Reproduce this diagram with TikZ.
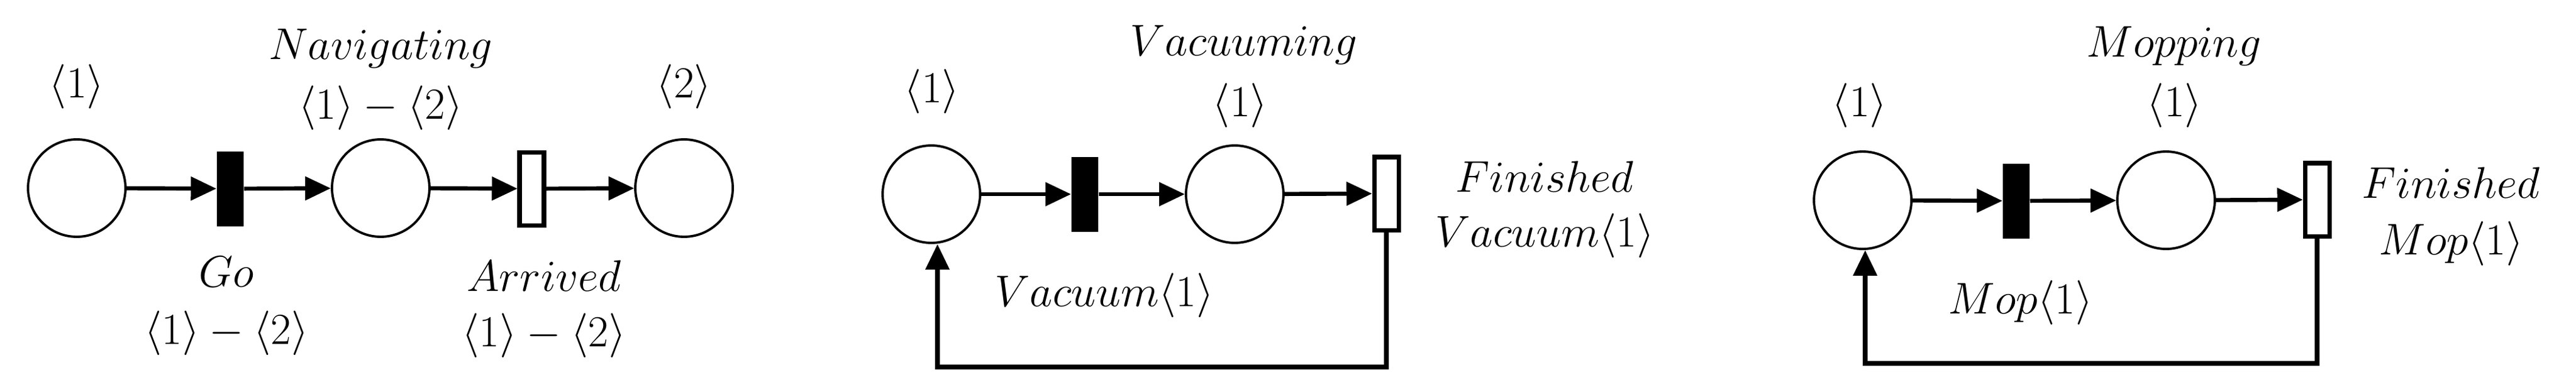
\documentclass[tikz,border=0pt]{standalone}
\usetikzlibrary{arrows.meta}
\begin{document}
\begin{tikzpicture}[
  txt/.style={font=\fontsize{22.7}{27}\selectfont, inner sep=0pt},
  place/.style={circle, draw, line width=1.1pt, minimum size=1.6cm, inner sep=0pt},
  btrans/.style={rectangle, fill=black, minimum width=0.44cm, minimum height=1.23cm, inner sep=0pt},
  wtrans/.style={rectangle, draw, line width=2pt, fill=white, minimum width=0.4cm, minimum height=1.2cm, inner sep=0pt},
  arc/.style={line width=1.9pt, -{Triangle[length=0.42cm,width=0.38cm]}},
  loop/.style={line width=2.2pt, -{Triangle[length=0.42cm,width=0.38cm]}}
]
\useasboundingbox (0,0) rectangle (42.29,-6.43);
% Panel 1
\node[place] (a1) at (1.26,-3.09) {};
\node[btrans] (ag) at (3.78,-3.10) {};
\node[place] (a2) at (6.25,-3.09) {};
\node[wtrans] (aa) at (8.73,-3.10) {};
\node[place] (a3) at (11.23,-3.09) {};
\draw[arc] (a1) -- (ag);
\draw[arc] (ag) -- (a2);
\draw[arc] (a2) -- (aa);
\draw[arc] (aa) -- (a3);
\node[txt] (a1l) at (1.26,-1.42) {$\langle 1\rangle$};
\node[txt] (a2n) at (6.25,-0.80) {$Navigating$};
\node[txt] (a2l) at (6.25,-1.77) {$\langle 1\rangle - \langle 2\rangle$};
\node[txt] (a3l) at (11.23,-1.42) {$\langle 2\rangle$};
\node[txt] (agn) at (3.72,-4.47) {$Go$};
\node[txt] (agl) at (3.72,-5.47) {$\langle 1\rangle - \langle 2\rangle$};
\node[txt] (aan) at (8.93,-4.53) {$Arrived$};
\node[txt] (aal) at (8.93,-5.51) {$\langle 1\rangle - \langle 2\rangle$};
% Panel 2
\node[place] (b1) at (15.29,-3.19) {};
\node[btrans] (bv) at (17.81,-3.19) {};
\node[place] (b2) at (20.27,-3.19) {};
\node[wtrans] (bf) at (22.76,-3.18) {};
\draw[arc] (b1) -- (bv);
\draw[arc] (bv) -- (b2);
\draw[arc] (b2) -- (bf);
\coordinate (bc) at (15.39,-6.03);
\draw[loop] (bf.south) |- (bc) -- (b1.south -| bc);
\node[txt] (b1l) at (15.30,-1.50) {$\langle 1\rangle$};
\node[txt] (b2n) at (20.42,-0.74) {$Vacuuming$};
\node[txt] (b2l) at (20.36,-1.73) {$\langle 1\rangle$};
\node[txt] (bfn) at (25.36,-2.90) {$Finished$};
\node[txt] (bfl) at (25.36,-3.87) {$Vacuum\langle 1\rangle$};
\node[txt] (bvl) at (18.13,-4.85) {$Vacuum\langle 1\rangle$};
% Panel 3
\node[place] (c1) at (30.58,-3.29) {};
\node[btrans] (cm) at (33.10,-3.30) {};
\node[place] (c2) at (35.56,-3.29) {};
\node[wtrans] (cf) at (38.04,-3.28) {};
\draw[arc] (c1) -- (cm);
\draw[arc] (cm) -- (c2);
\draw[arc] (c2) -- (cf);
\coordinate (cc) at (30.62,-5.97);
\draw[loop] (cf.south) |- (cc) -- (c1.south -| cc);
\node[txt] (c1l) at (30.53,-1.73) {$\langle 1\rangle$};
\node[txt] (c2n) at (35.69,-0.76) {$Mopping$};
\node[txt] (c2l) at (35.70,-1.73) {$\langle 1\rangle$};
\node[txt] (cfn) at (40.24,-3.00) {$Finished$};
\node[txt] (cfl) at (40.24,-4.00) {$Mop\langle 1\rangle$};
\node[txt] (cml) at (33.17,-4.97) {$Mop\langle 1\rangle$};
\end{tikzpicture}
\end{document}
